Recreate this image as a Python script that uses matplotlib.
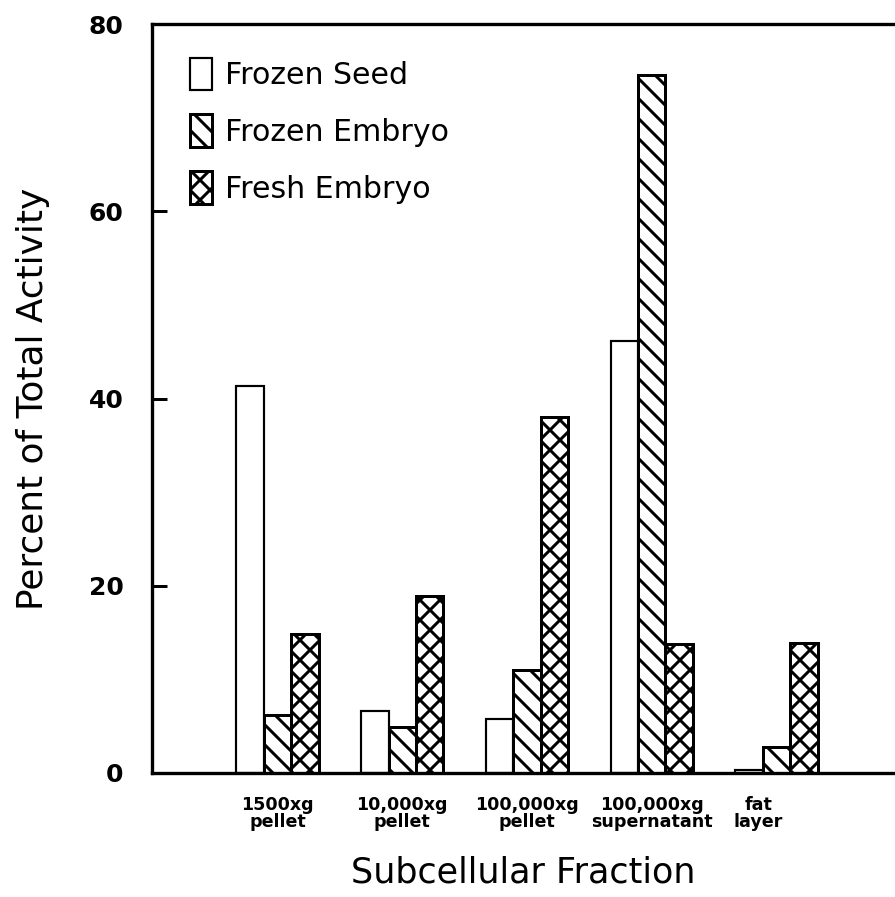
import matplotlib
matplotlib.use("Agg")
import matplotlib.pyplot as plt
import matplotlib.transforms as mtransforms
import numpy as np

categories = ["1500xg\npellet", "10,000xg\npellet", "100,000xg\npellet",
              "100,000xg\nsupernatant", "fat\nlayer"]
frozen_seed = [41.3, 6.6, 5.8, 46.1, 0.3]
frozen_embryo = [6.2, 4.9, 11.0, 74.6, 2.8]
fresh_embryo = [14.8, 18.9, 38.0, 13.8, 13.9]
series_names = ["Frozen Seed", "Frozen Embryo", "Fresh Embryo"]
yticks = [0, 20, 40, 60, 80]

DPI = 120
plt.rcParams["font.family"] = ["DejaVu Sans"]
plt.rcParams["hatch.linewidth"] = 1.8
plt.rcParams["hatch.color"] = "black"

fig = plt.figure(figsize=(895 / DPI, 897 / DPI), dpi=DPI)
ax = fig.add_axes([152 / 895, 1 - 773 / 897, (895 - 152) / 895, (773 - 24) / 897])

x = np.arange(len(categories))
w = 0.22
ax.bar(x - w, frozen_seed, w, color="white", edgecolor="black", linewidth=1.3,
       label=series_names[0])
ax.bar(x, frozen_embryo, w, color="white", edgecolor="black", linewidth=1.8,
       hatch="\\\\", label=series_names[1])
ax.bar(x + w, fresh_embryo, w, color="white", edgecolor="black", linewidth=1.8,
       hatch="xx", label=series_names[2])

ax.set_xlim(-1.006, 4.95)
ax.set_ylim(0, 80)
ax.set_yticks(yticks)
ax.set_yticklabels([str(v) for v in yticks], fontsize=15, fontweight="bold")
ax.tick_params(axis="y", direction="in", length=9, width=1.8, pad=17)
ax.set_xticks(x)
ax.set_xticklabels(categories, fontsize=10.5, fontweight="bold", linespacing=0.9)
ax.tick_params(axis="x", length=0, pad=14)
last = ax.get_xticklabels()[-1]
last.set_transform(last.get_transform() +
                   mtransforms.ScaledTranslation(-18 / DPI, 0, fig.dpi_scale_trans))

for s in ["left", "top", "bottom"]:
    ax.spines[s].set_linewidth(2.0)
ax.spines["right"].set_visible(False)

ax.set_ylabel("Percent of Total Activity", fontsize=21.5, labelpad=23)
ax.set_xlabel("Subcellular Fraction", fontsize=21, labelpad=15)

leg = ax.legend(loc="upper left", bbox_to_anchor=(0.051, 0.955), frameon=False,
                fontsize=18, handlelength=0.73, handleheight=1.3,
                handletextpad=0.45, labelspacing=0.8, borderpad=0,
                borderaxespad=0)

fig.savefig("out.png", dpi=DPI)
